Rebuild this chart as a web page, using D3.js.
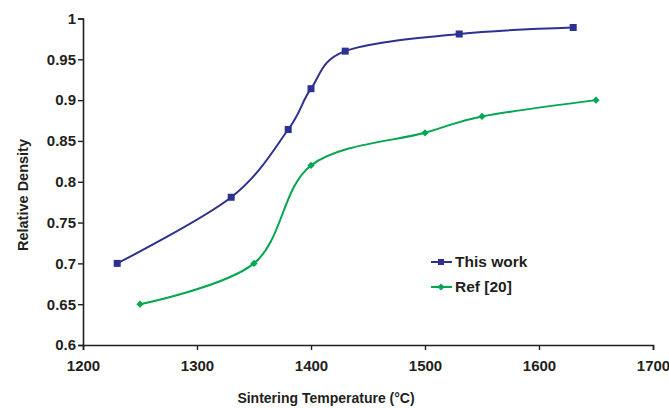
<!DOCTYPE html>
<html><head><meta charset="utf-8">
<script src="https://cdn.jsdelivr.net/npm/d3@7"></script>
<style>body{margin:0;background:#fff}svg{display:block}text{font-family:"Liberation Sans",Arial,sans-serif;font-weight:bold;fill:#231f20}</style>
</head><body><svg id="c" width="669" height="408"></svg>
<script>
const thisTemp = [1230, 1330, 1380, 1400, 1430, 1530, 1630];
const thisDens = [0.70, 0.781, 0.864, 0.914, 0.960, 0.981, 0.989];
const refTemp = [1250, 1350, 1400, 1500, 1550, 1650];
const refDens = [0.65, 0.70, 0.82, 0.86, 0.88, 0.90];
const xTicks = [1200, 1300, 1400, 1500, 1600, 1700];
const yTicks = [0.6, 0.65, 0.7, 0.75, 0.8, 0.85, 0.9, 0.95, 1];
const seriesNames = ["This work", "Ref [20]"];

const svg = d3.select("#c");
const x = d3.scaleLinear().domain([1200, 1700]).range([83, 653]);
const y = d3.scaleLinear().domain([0.6, 1]).range([345, 18.5]);

const xAxis = svg.append("g").attr("transform", "translate(0,345)")
  .call(d3.axisBottom(x).tickValues(xTicks).tickSize(5).tickPadding(10).tickFormat(d3.format("d")));
const yAxis = svg.append("g").attr("transform", "translate(83,0)")
  .call(d3.axisLeft(y).tickValues(yTicks).tickSize(5).tickPadding(2).tickFormat(d => d === 1 ? "1" : String(d)));
[xAxis, yAxis].forEach(a => {
  a.select(".domain").attr("stroke", "#231f20").attr("stroke-width", 1.6);
  a.selectAll(".tick line").attr("stroke", "#231f20").attr("stroke-width", 1.4);
  a.selectAll("text").attr("font-size", 15).attr("font-family", "Liberation Sans, Arial, sans-serif").attr("font-weight", "bold").attr("fill", "#231f20");
});

svg.append("text").attr("x", 326).attr("y", 403).attr("text-anchor", "middle").attr("font-size", 14).text("Sintering Temperature (°C)");
svg.append("text").attr("transform", "translate(28,195) rotate(-90)").attr("text-anchor", "middle").attr("font-size", 14.5).text("Relative Density");

const colors = ["#2e3192", "#00a650"];
const line = d3.line().x(d => x(d[0])).y(d => y(d[1])).curve(d3.curveCatmullRom.alpha(0));
const s1 = thisTemp.map((t, i) => [t, thisDens[i]]);
const s2 = refTemp.map((t, i) => [t, refDens[i]]);

svg.append("path").datum(s1).attr("d", line).attr("fill", "none").attr("stroke", colors[0]).attr("stroke-width", 2);
svg.append("path").datum(s2).attr("d", line).attr("fill", "none").attr("stroke", colors[1]).attr("stroke-width", 2);

svg.selectAll(".m1").data(s1).enter().append("rect")
  .attr("x", d => x(d[0]) - 3.5).attr("y", d => y(d[1]) - 3.5).attr("width", 7).attr("height", 7).attr("fill", colors[0]);
const diamond = "M0,-3.6L3.6,0L0,3.6L-3.6,0Z";
svg.selectAll(".m2").data(s2).enter().append("path")
  .attr("d", diamond).attr("transform", d => `translate(${x(d[0])},${y(d[1])})`).attr("fill", colors[1]);

// legend
const lg = svg.append("g");
[0, 1].forEach(i => {
  const yy = 262 + i * 25;
  lg.append("line").attr("x1", 431).attr("x2", 452).attr("y1", yy).attr("y2", yy).attr("stroke", colors[i]).attr("stroke-width", 2);
  if (i === 0) lg.append("rect").attr("x", 438).attr("y", yy - 3).attr("width", 6).attr("height", 6).attr("fill", colors[0]);
  else lg.append("path").attr("d", diamond).attr("transform", `translate(441,${yy})`).attr("fill", colors[1]);
  lg.append("text").attr("x", 455).attr("y", yy + 5).attr("font-size", 15.5).text(seriesNames[i]);
});
</script></body></html>
